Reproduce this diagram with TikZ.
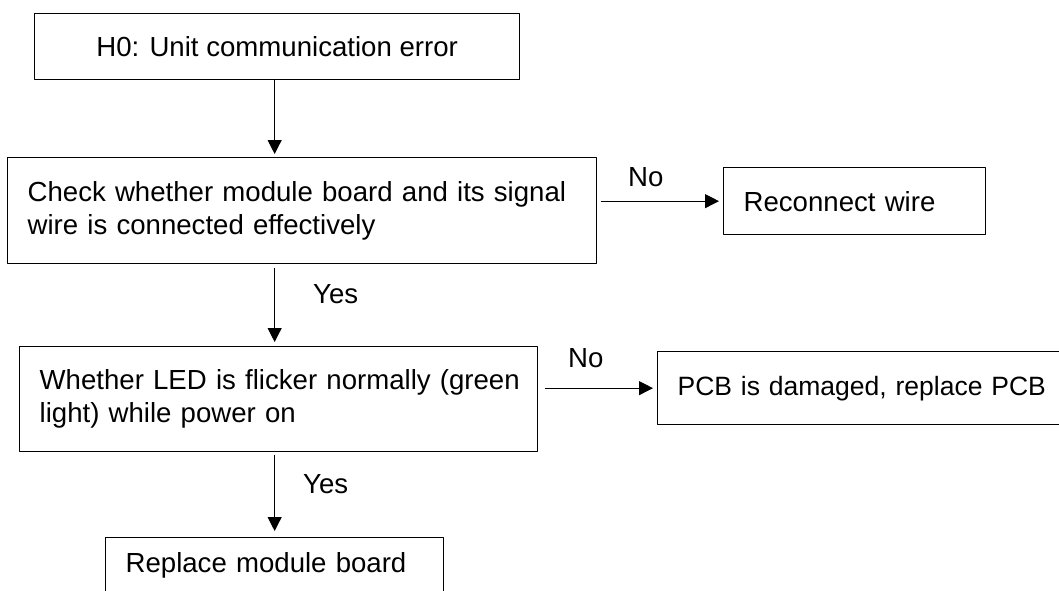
\documentclass[tikz,border=0pt]{standalone}
\usepackage{fontspec}
\setmainfont{Liberation Sans}
\usetikzlibrary{arrows.meta}
\begin{document}
\begin{tikzpicture}[x=0.5pt,y=-0.5pt,line cap=round,line join=round,
  box/.style={draw,line width=0.65pt,anchor=north west,inner xsep=10pt,inner ysep=0pt,
    align=left,font=\fontsize{13.8pt}{16.3pt}\selectfont},
  arr/.style={-{Triangle[length=7pt,width=7pt]},line width=0.5pt},
  lbl/.style={font=\fontsize{13.8pt}{16.3pt}\selectfont,inner sep=0pt}]
  \useasboundingbox (0,0) rectangle (1059,590);
  \clip (0,0) rectangle (1059,590);
  \node[box,align=center,minimum width=242.5pt,minimum height=33pt] (h0) at (34,13) {H0: Unit communication error};
  \node[box,text width=274.5pt,minimum height=53pt] (chk) at (7,157) {\mbox{Check whether module board and its signal}\\wire is connected effectively};
  \node[box,text width=111pt,minimum height=33.5pt] (wire) at (723,167) {Reconnect wire};
  \node[box,text width=239pt,minimum height=52.5pt] (led) at (19,346) {\mbox{Whether LED is flicker normally (green}\\light) while power on};
  \node[box,text width=190pt,minimum height=36.5pt,font=\fontsize{13.25pt}{16pt}\selectfont] (pcb) at (657,351) {\mbox{PCB is damaged, replace PCB}};
  \node[box,text width=149pt,minimum height=28pt] (mod) at (105,537) {Replace module board};
  \draw[arr,shorten >=1.5pt] (mod.north |- h0.south) -- (mod.north |- chk.north);
  \draw[arr,shorten <=2pt,shorten >=2pt] (mod.north |- chk.south) -- node[lbl,anchor=west,pos=0.36,xshift=19pt] {Yes} (mod.north |- led.north);
  \draw[arr,shorten <=1.5pt,shorten >=3pt] (mod.north |- led.south) -- node[lbl,anchor=west,pos=0.37,xshift=14pt] {Yes} (mod.north);
  \draw[arr,shorten <=2pt,shorten >=2pt] (chk.east |- wire.west) -- node[lbl,anchor=south,pos=0.386,yshift=6.8pt] {No} (wire.west);
  \draw[arr,shorten <=3.5pt,shorten >=2pt] (led.east |- pcb.west) -- node[lbl,anchor=south,pos=0.4,yshift=9.8pt] {No} (pcb.west);
\end{tikzpicture}
\end{document}
